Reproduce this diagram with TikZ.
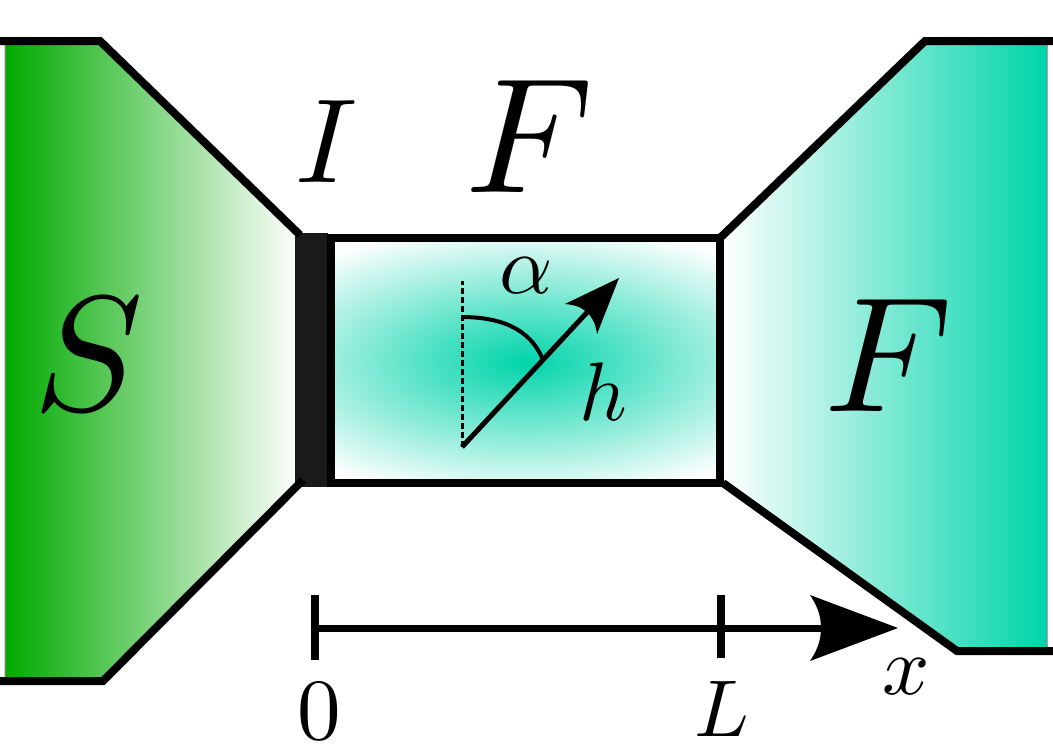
\documentclass[tikz,border=0pt]{standalone}
\usepackage{amsmath}
\usepackage{amssymb}
\usetikzlibrary{arrows.meta}
\definecolor{solidgreen}{RGB}{0,170,0}
\definecolor{fluidteal}{RGB}{0,212,170}
\definecolor{barrierdark}{RGB}{26,26,26}
\pgfdeclareradialshading{chamberglow}{\pgfpoint{0bp}{0bp}}{color(0bp)=(fluidteal); color(28bp)=(white); color(50bp)=(white)}
\pgfdeclarearrow{
	name=CurvedKite,
	parameters={\the\pgfarrowlength,\the\pgfarrowwidth,\the\pgfarrowinset},
	setup code={
		\pgfarrowssettipend{\pgfarrowlength}
		\pgfarrowssetlineend{\pgfarrowinset}
		\pgfarrowssetvisualbackend{\pgfarrowinset}
		\pgfarrowssetbackend{0pt}
	},
	drawing code={
		\pgfpathmoveto{\pgfqpoint{\pgfarrowlength}{0pt}}
		\pgfpathlineto{\pgfqpoint{0pt}{.5\pgfarrowwidth}}
		\pgfpathcurveto{\pgfqpoint{.6\pgfarrowinset}{.35\pgfarrowwidth}}{\pgfqpoint{\pgfarrowinset}{.2\pgfarrowwidth}}{\pgfqpoint{\pgfarrowinset}{0pt}}
		\pgfpathcurveto{\pgfqpoint{\pgfarrowinset}{-.2\pgfarrowwidth}}{\pgfqpoint{.6\pgfarrowinset}{-.35\pgfarrowwidth}}{\pgfqpoint{0pt}{-.5\pgfarrowwidth}}
		\pgfpathclose
		\pgfusepathqfill
	}
}
\tikzset{
	wall/.style={line width=8pt,line join=miter},
	biglabel/.style={inner sep=0pt,scale=16.4},
	smalllabel/.style={inner sep=0pt,scale=8.3},
}
\begin{document}
\begin{tikzpicture}[x=1pt,y=-1pt]
		\useasboundingbox (0,0) rectangle (1053,745);
		% reservoirs
		\path[draw=gray,line width=1pt,left color=solidgreen,right color=white] (5,41) -- (100,41) -- (298,235) -- (298,483) -- (103,681) -- (5,681) -- cycle;
		\path[draw=gray,line width=1pt,left color=white,right color=fluidteal] (722,238) -- (925,41) -- (1047,41) -- (1047,651) -- (957,651) -- (722,483) -- cycle;
		\begin{scope}
			\clip (332,238) rectangle (720,483);
			\shade[shading=chamberglow] (250,238) rectangle (800,486);
		\end{scope}
		\fill[barrierdark] (295,233) rectangle (328,487);
		\draw[wall] (331,237.5) rectangle (720,483);
		% walls
		\draw[wall] (0,41) -- (100,41) -- (300,235);
		\draw[wall] (0,681) -- (103,681) -- (303,480);
		\draw[wall] (1053,41) -- (925,41) -- (720,238);
		\draw[wall] (1053,651) -- (957,651) -- (723,483);
		% angle
		\coordinate (base) at (462,447);
		\coordinate (top) at (462,281);
		\coordinate (tip) at (619,278);
		\coordinate (arcstart) at (461,317);
		\coordinate (arcend) at (543,360);
		\draw[line width=3pt,dash pattern=on 6pt off 3pt] (base) -- (top);
		\draw[line width=5pt,-{CurvedKite[length=56pt,width=44pt,inset=9pt]}] (base) -- (tip);
		\draw[line width=4pt] (arcstart) to[out=0,in=112] (arcend);
		% axis
		\coordinate (origin) at (315,628);
		\coordinate (axisend) at (898,628);
		\draw[line width=7pt,-{CurvedKite[length=88pt,width=66pt,inset=11pt]}] (origin) -- (axisend);
		\draw[line width=8pt] (315,595) -- (315,660);
		\draw[line width=8pt] (721,595) -- (721,658);
		% labels
		\node[biglabel,scale=.73] (Ilabel) at (327,142) {$I$};
		\node[biglabel] (Ftop) at (530,136) {$F$};
		\node[biglabel] (Slabel) at (89,354) {$S$};
		\node[biglabel] (Fright) at (889,355) {$F$};
		\node[smalllabel] (alphalabel) at (526,276) {$\alpha$};
		\node[smalllabel] (hlabel) at (603,392) {$h$};
		\node[smalllabel] (xlabel) at (906,677) {$x$};
		\node[smalllabel,scale=1.05] (zerolabel) at (319,711) {$0$};
		\node[smalllabel,scale=.97] (Llabel) at (722,709) {$L$};
	\end{tikzpicture}
\end{document}
